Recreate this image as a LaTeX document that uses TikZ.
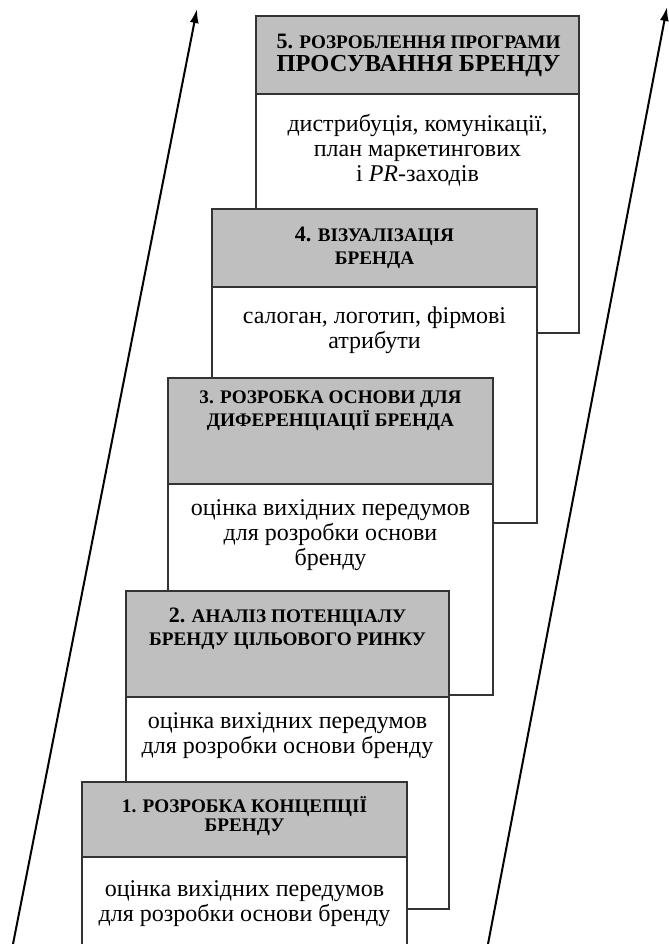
\documentclass[tikz,border=0pt]{standalone}
\usepackage{fontspec}
\setmainfont{Liberation Serif}[BoldFont={Liberation Serif Bold},ItalicFont={Liberation Serif Italic}]
\usetikzlibrary{arrows.meta}

\begin{document}
\begin{tikzpicture}[x=0.5pt,y=-0.5pt,
    hdr/.style={fill=black!25,draw=black!80,line width=0.7pt},
    bdy/.style={fill=white,draw=black!80,line width=0.7pt},
    htext/.style={font=\bfseries\fontsize{9.6}{11.5}\selectfont,align=center,inner sep=0pt},
    btext/.style={font=\fontsize{12}{12.5}\selectfont,align=center,inner sep=0pt}]
    \useasboundingbox (0,0) rectangle (669,944);
    \clip (0,0) rectangle (669,944);

    % Draw rising arrows
    \coordinate (la) at (13,944);
    \coordinate (lb) at (197,9);
    \coordinate (ra) at (488,944);
    \coordinate (rb) at (667,7);
    \draw[line width=1pt,-{Latex[length=7pt,width=4.5pt]}] (la) -- (lb);
    \draw[line width=1pt,-{Latex[length=7pt,width=4.5pt]}] (ra) -- (rb);

    % Draw step 5
    \draw[bdy] (256,16) rectangle (579,333);
    \draw[hdr] (256,16) rectangle (579,94);
    \node[htext] (h5) at (418.5,55) {{\fontsize{11}{11.5}\selectfont 5.} РОЗРОБЛЕННЯ ПРОГРАМИ\\{\fontsize{12.2}{11.5}\selectfont ПРОСУВАННЯ БРЕНДУ}};
    \node[btext] (b5) at (417.5,150) {дистрибуція, комунікації,\\план маркетингових\\і \textit{PR}-заходів};

    % Draw step 4
    \draw[bdy] (212,209) rectangle (537,523);
    \draw[hdr] (212,209) rectangle (537,287);
    \node[htext] (h4) at (374.5,248) {{\fontsize{11}{11.5}\selectfont 4.} ВІЗУАЛІЗАЦІЯ\\БРЕНДА};
    \node[btext] (b4) at (374.5,330) {салоган, логотип, фірмові\\атрибути};

    % Draw step 3
    \draw[bdy] (168,378) rectangle (493,695);
    \draw[hdr] (168,378) rectangle (493,484);
    \node[htext] (h3) at (330.5,411) {3. РОЗРОБКА ОСНОВИ ДЛЯ\\ДИФЕРЕНЦІАЦІЇ БРЕНДА};
    \node[btext] (b3) at (330.5,535) {оцінка вихідних передумов\\для розробки основи\\бренду};

    % Draw step 2
    \draw[bdy] (126,591) rectangle (449,909);
    \draw[hdr] (126,591) rectangle (449,697);
    \node[htext] (h2) at (287.5,628.5) {{\fontsize{11}{11.5}\selectfont 2.} АНАЛІЗ ПОТЕНЦІАЛУ\\БРЕНДУ ЦІЛЬОВОГО РИНКУ};
    \node[btext] (b2) at (287.5,736) {оцінка вихідних передумов\\для розробки основи бренду};

    % Draw step 1
    \draw[bdy] (82,782) rectangle (407,960);
    \draw[hdr] (82,782) rectangle (407,857);
    \node[htext,font=\bfseries\fontsize{9.6}{9.5}\selectfont] (h1) at (244.5,816) {1. РОЗРОБКА КОНЦЕПЦІЇ\\БРЕНДУ};
    \node[btext] (b1) at (244.5,904) {оцінка вихідних передумов\\для розробки основи бренду};
\end{tikzpicture}
\end{document}
